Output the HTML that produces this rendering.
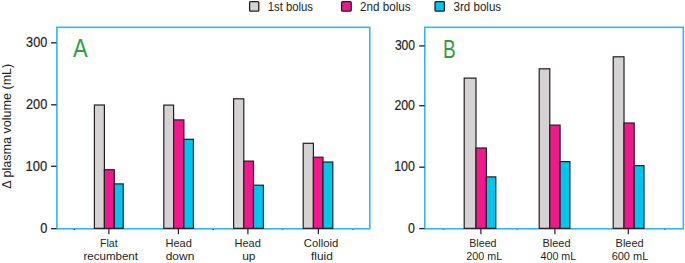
<!DOCTYPE html>
<html><head><meta charset="utf-8"><style>
html,body{margin:0;padding:0;background:#fff;width:685px;height:263px;overflow:hidden;}
svg{display:block;}
</style></head><body>
<svg width="685" height="263" viewBox="0 0 685 263">
<style>
.t{font-family:"Liberation Sans",sans-serif;fill:#231f20;}
.n{font-family:"Liberation Sans",sans-serif;fill:#231f20;stroke:#231f20;stroke-width:0.2px;}
.big{font-family:"Liberation Sans",sans-serif;fill:#2f9e3f;}
</style>

<!-- legend -->
<rect x="249.6" y="1.6" width="9.2" height="9.6" fill="#d4d2d2" stroke="#231f20" stroke-width="1.3" rx="1"/>
<rect x="341.6" y="1.6" width="9.6" height="9.6" fill="#f0198c" stroke="#231f20" stroke-width="1.3" rx="1"/>
<rect x="435.0" y="1.6" width="9.4" height="9.6" fill="#00c6ee" stroke="#231f20" stroke-width="1.3" rx="1"/>
<!-- y label -->
<text transform="translate(10.8,126.2) rotate(-90)" text-anchor="middle" class="t" style="font-size:13.2px" textLength="125" lengthAdjust="spacingAndGlyphs">&#916; plasma volume (mL)</text>
<!-- panels -->
<rect x="56.9" y="27.3" width="312.90000000000003" height="201.5" fill="none" stroke="#36b6e9" stroke-width="1.6"/>
<rect x="424.8" y="27.3" width="258.49999999999994" height="201.5" fill="none" stroke="#36b6e9" stroke-width="1.6"/>
<rect x="73.7" y="228.9" width="1.4" height="1.1" fill="#1a2a44" opacity="0.85"/>
<rect x="212.6" y="228.9" width="1.4" height="1.1" fill="#1a2a44" opacity="0.85"/>
<rect x="281.9" y="228.9" width="1.4" height="1.1" fill="#1a2a44" opacity="0.45"/>
<rect x="352.3" y="228.9" width="1.4" height="1.1" fill="#1a2a44" opacity="0.45"/>
<rect x="442.7" y="228.9" width="1.4" height="1.1" fill="#1a2a44" opacity="0.45"/>
<rect x="516.6" y="228.9" width="1.4" height="1.1" fill="#1a2a44" opacity="0.45"/>
<rect x="664.1" y="228.9" width="1.4" height="1.1" fill="#1a2a44" opacity="0.45"/>
<!-- bars -->
<rect x="94.40" y="105.00" width="10.00" height="123.35" fill="#d4d2d2" stroke="#231f20" stroke-width="1.2"/>
<rect x="104.40" y="169.70" width="9.90" height="58.65" fill="#f0198c" stroke="#231f20" stroke-width="1.2"/>
<rect x="114.30" y="183.90" width="8.90" height="44.45" fill="#00c6ee" stroke="#231f20" stroke-width="1.2"/>
<rect x="163.80" y="105.10" width="9.80" height="123.25" fill="#d4d2d2" stroke="#231f20" stroke-width="1.2"/>
<rect x="173.60" y="119.90" width="10.30" height="108.45" fill="#f0198c" stroke="#231f20" stroke-width="1.2"/>
<rect x="183.90" y="139.30" width="9.50" height="89.05" fill="#00c6ee" stroke="#231f20" stroke-width="1.2"/>
<rect x="233.60" y="98.80" width="10.20" height="129.55" fill="#d4d2d2" stroke="#231f20" stroke-width="1.2"/>
<rect x="243.80" y="161.10" width="9.70" height="67.25" fill="#f0198c" stroke="#231f20" stroke-width="1.2"/>
<rect x="253.50" y="185.20" width="9.90" height="43.15" fill="#00c6ee" stroke="#231f20" stroke-width="1.2"/>
<rect x="303.20" y="143.30" width="10.20" height="85.05" fill="#d4d2d2" stroke="#231f20" stroke-width="1.2"/>
<rect x="313.40" y="157.20" width="9.60" height="71.15" fill="#f0198c" stroke="#231f20" stroke-width="1.2"/>
<rect x="323.00" y="162.00" width="9.80" height="66.35" fill="#00c6ee" stroke="#231f20" stroke-width="1.2"/>
<rect x="464.20" y="78.10" width="11.80" height="150.25" fill="#d4d2d2" stroke="#231f20" stroke-width="1.2"/>
<rect x="476.00" y="148.00" width="10.40" height="80.35" fill="#f0198c" stroke="#231f20" stroke-width="1.2"/>
<rect x="486.40" y="176.90" width="9.40" height="51.45" fill="#00c6ee" stroke="#231f20" stroke-width="1.2"/>
<rect x="539.20" y="68.80" width="10.60" height="159.55" fill="#d4d2d2" stroke="#231f20" stroke-width="1.2"/>
<rect x="549.80" y="125.10" width="10.30" height="103.25" fill="#f0198c" stroke="#231f20" stroke-width="1.2"/>
<rect x="560.10" y="161.60" width="9.80" height="66.75" fill="#00c6ee" stroke="#231f20" stroke-width="1.2"/>
<rect x="613.20" y="56.80" width="10.80" height="171.55" fill="#d4d2d2" stroke="#231f20" stroke-width="1.2"/>
<rect x="624.00" y="123.00" width="10.20" height="105.35" fill="#f0198c" stroke="#231f20" stroke-width="1.2"/>
<rect x="634.20" y="165.60" width="9.80" height="62.75" fill="#00c6ee" stroke="#231f20" stroke-width="1.2"/>
<line x1="51.1" y1="42.8" x2="56.4" y2="42.8" stroke="#231f20" stroke-width="1.3"/>
<line x1="51.1" y1="104.8" x2="56.4" y2="104.8" stroke="#231f20" stroke-width="1.3"/>
<line x1="51.1" y1="166.3" x2="56.4" y2="166.3" stroke="#231f20" stroke-width="1.3"/>
<line x1="51.1" y1="228.7" x2="56.4" y2="228.7" stroke="#231f20" stroke-width="1.3"/>
<line x1="419.2" y1="45.9" x2="424.5" y2="45.9" stroke="#231f20" stroke-width="1.3"/>
<line x1="419.2" y1="105.7" x2="424.5" y2="105.7" stroke="#231f20" stroke-width="1.3"/>
<line x1="419.2" y1="167.2" x2="424.5" y2="167.2" stroke="#231f20" stroke-width="1.3"/>
<line x1="419.2" y1="228.6" x2="424.5" y2="228.6" stroke="#231f20" stroke-width="1.3"/>
<line x1="108.9" y1="228.8" x2="108.9" y2="234.3" stroke="#231f20" stroke-width="1.2"/>
<line x1="178.4" y1="228.8" x2="178.4" y2="234.3" stroke="#231f20" stroke-width="1.2"/>
<line x1="247.9" y1="228.8" x2="247.9" y2="234.3" stroke="#231f20" stroke-width="1.2"/>
<line x1="318.4" y1="228.8" x2="318.4" y2="234.3" stroke="#231f20" stroke-width="1.2"/>
<line x1="480.9" y1="228.8" x2="480.9" y2="234.3" stroke="#231f20" stroke-width="1.2"/>
<line x1="554.9" y1="228.8" x2="554.9" y2="234.3" stroke="#231f20" stroke-width="1.2"/>
<line x1="628.3" y1="228.8" x2="628.3" y2="234.3" stroke="#231f20" stroke-width="1.2"/>

<text id="ya3" x="26.09" y="46.6" class="n" style="font-size:13.8px" textLength="21.16" lengthAdjust="spacingAndGlyphs">300</text>
<text id="ya2" x="26.03" y="108.7" class="n" style="font-size:13.8px" textLength="21.25" lengthAdjust="spacingAndGlyphs">200</text>
<text id="ya1" x="25.53" y="170.5" class="n" style="font-size:13.8px" textLength="21.59" lengthAdjust="spacingAndGlyphs">100</text>
<text id="ya0" x="40.30" y="232.6" class="n" style="font-size:13.8px" textLength="7.14" lengthAdjust="spacingAndGlyphs">0</text>
<text id="yb3" x="394.88" y="50.0" class="n" style="font-size:13.8px" textLength="20.19" lengthAdjust="spacingAndGlyphs">300</text>
<text id="yb2" x="394.38" y="109.6" class="n" style="font-size:13.8px" textLength="20.62" lengthAdjust="spacingAndGlyphs">200</text>
<text id="yb1" x="394.14" y="171.2" class="n" style="font-size:13.8px" textLength="20.67" lengthAdjust="spacingAndGlyphs">100</text>
<text id="yb0" x="408.08" y="232.6" class="n" style="font-size:13.8px" textLength="6.86" lengthAdjust="spacingAndGlyphs">0</text>
<text id="lg1" x="267.69" y="10.8" class="t" style="font-size:12.5px" textLength="45.28" lengthAdjust="spacingAndGlyphs">1st bolus</text>
<text id="lg2" x="360.05" y="10.8" class="t" style="font-size:12.5px" textLength="50.52" lengthAdjust="spacingAndGlyphs">2nd bolus</text>
<text id="lg3" x="453.51" y="10.8" class="t" style="font-size:12.5px" textLength="47.64" lengthAdjust="spacingAndGlyphs">3rd bolus</text>
<text id="x1a" x="99.90" y="247.0" class="t" style="font-size:11.8px" textLength="17.79" lengthAdjust="spacingAndGlyphs">Flat</text>
<text id="x1b" x="83.45" y="259.8" class="t" style="font-size:11.8px" textLength="54.52" lengthAdjust="spacingAndGlyphs">recumbent</text>
<text id="x2a" x="165.48" y="247.0" class="t" style="font-size:11.8px" textLength="26.38" lengthAdjust="spacingAndGlyphs">Head</text>
<text id="x2b" x="165.68" y="259.8" class="t" style="font-size:11.8px" textLength="28.65" lengthAdjust="spacingAndGlyphs">down</text>
<text id="x3a" x="234.48" y="247.0" class="t" style="font-size:11.8px" textLength="26.29" lengthAdjust="spacingAndGlyphs">Head</text>
<text id="x3b" x="242.15" y="259.8" class="t" style="font-size:11.8px" textLength="13.35" lengthAdjust="spacingAndGlyphs">up</text>
<text id="x4a" x="303.73" y="247.0" class="t" style="font-size:11.8px" textLength="34.65" lengthAdjust="spacingAndGlyphs">Colloid</text>
<text id="x4b" x="310.99" y="259.8" class="t" style="font-size:11.8px" textLength="21.89" lengthAdjust="spacingAndGlyphs">fluid</text>
<text id="x5a" x="469.29" y="247.0" class="t" style="font-size:11.8px" textLength="27.21" lengthAdjust="spacingAndGlyphs">Bleed</text>
<text id="x5b" x="466.36" y="259.8" class="t" style="font-size:11.8px" textLength="35.87" lengthAdjust="spacingAndGlyphs">200 mL</text>
<text id="x6a" x="542.43" y="247.0" class="t" style="font-size:11.8px" textLength="28.11" lengthAdjust="spacingAndGlyphs">Bleed</text>
<text id="x6b" x="540.52" y="259.8" class="t" style="font-size:11.8px" textLength="35.74" lengthAdjust="spacingAndGlyphs">400 mL</text>
<text id="x7a" x="615.60" y="247.0" class="t" style="font-size:11.8px" textLength="28.13" lengthAdjust="spacingAndGlyphs">Bleed</text>
<text id="x7b" x="611.63" y="259.8" class="t" style="font-size:11.8px" textLength="36.68" lengthAdjust="spacingAndGlyphs">600 mL</text>
<text id="pA" x="72.98" y="57.2" class="big" style="font-size:25px" textLength="14.68" lengthAdjust="spacingAndGlyphs">A</text>
<text id="pB" x="442.95" y="57.6" class="big" style="font-size:25px" textLength="12.73" lengthAdjust="spacingAndGlyphs">B</text>
</svg>
</body></html>
